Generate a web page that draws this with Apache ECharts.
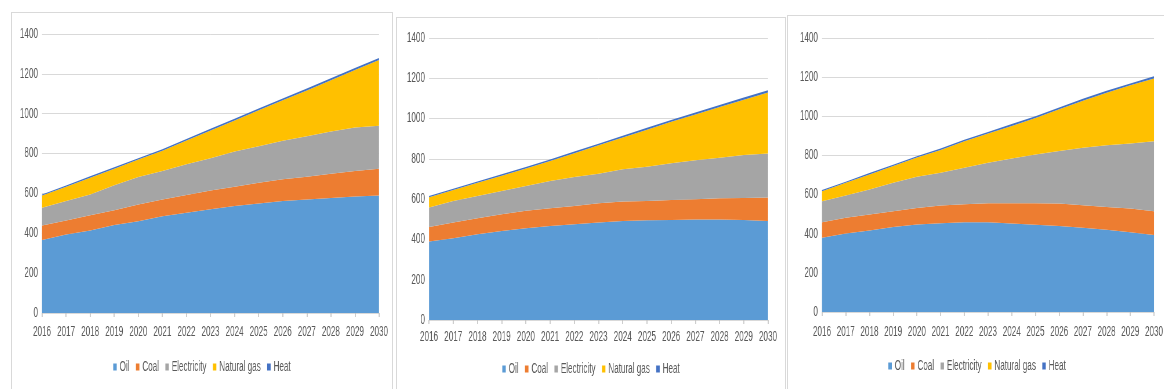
<!DOCTYPE html>
<html>
<head>
<meta charset="utf-8">
<script src="https://cdn.jsdelivr.net/npm/echarts@6/dist/echarts.min.js"></script>
<style>
  html, body { margin: 0; padding: 0; background: #ffffff; }
  body { width: 1164px; height: 389px; position: relative; overflow: hidden; }
  .panel { position: absolute; box-sizing: border-box; border: 1px solid #d9d9d9; background: #fff; overflow: hidden; }
  /* charts are laid out wide and narrowed horizontally, giving the condensed lettering */
  .inner { position: absolute; left: 0; top: 0; height: 100%; transform-origin: 0 0; }
</style>
</head>
<body>
<div id="p1" class="panel" style="left:11px; top:12px; width:382px; height:380px;"><div class="inner"></div></div>
<div id="p2" class="panel" style="left:396px; top:17px; width:390px; height:375px;"><div class="inner"></div></div>
<div id="p3" class="panel" style="left:787px; top:15px; width:380px; height:377px;"><div class="inner"></div></div>
<script>
// Years on the horizontal axis
const years = ['2016','2017','2018','2019','2020','2021','2022','2023','2024','2025','2026','2027','2028','2029','2030'];
const seriesNames = ['Oil', 'Coal', 'Electricity', 'Natural gas', 'Heat'];
const yTicks = [0, 200, 400, 600, 800, 1000, 1200, 1400];

// Scenario A
const oilA   = [366, 394, 414, 441, 461, 486, 503, 520, 537, 550, 562, 570, 577, 584, 590];
const coalA  = [73, 70, 76, 75, 84, 84, 89, 95, 97, 104, 109, 114, 122, 129, 134];
const elecA  = [89, 98, 105, 125, 138, 143, 154, 161, 176, 183, 193, 203, 212, 218, 215];
const gasA   = [61, 72, 84, 83, 87, 101, 119, 140, 156, 180, 203, 230, 257, 288, 330];
const heatA  = [6, 6, 7, 7, 7, 8, 8, 8, 9, 9, 9, 10, 10, 10, 11];

// Scenario B
const oilB   = [390, 406, 426, 442, 456, 467, 475, 484, 492, 495, 497, 499, 499, 497, 492];
const coalB  = [72, 78, 79, 83, 86, 88, 91, 96, 96, 96, 99, 100, 105, 109, 116];
const elecB  = [96, 107, 111, 116, 123, 135, 144, 146, 160, 170, 182, 194, 202, 213, 219];
const gasB   = [52, 55, 65, 75, 87, 99, 118, 141, 158, 184, 206, 227, 251, 275, 303];
const heatB  = [6, 6, 7, 7, 7, 8, 8, 8, 9, 9, 9, 10, 10, 10, 11];

// Scenario C
const oilC   = [379, 401, 417, 434, 447, 454, 458, 458, 452, 446, 439, 430, 420, 408, 393];
const coalC  = [80, 80, 81, 81, 85, 90, 93, 98, 104, 110, 115, 116, 117, 121, 122];
const elecC  = [107, 114, 128, 145, 159, 167, 186, 206, 228, 249, 268, 293, 315, 332, 358];
const gasC   = [51, 65, 77, 86, 98, 117, 135, 150, 167, 186, 214, 241, 268, 297, 320];
const heatC  = [6, 6, 7, 7, 7, 8, 8, 8, 9, 9, 9, 10, 10, 10, 11];

const colors = ['#5b9bd5', '#ed7d31', '#a5a5a5', '#ffc000', '#4472c4'];
const font = "'Liberation Sans', Arial, sans-serif";
const textColor = '#595959';
const SX = 0.58; // horizontal narrowing factor

function buildOption(data, g, labelMargin, legendBottom, legendShift) {
  return {
    animation: false,
    color: colors,
    textStyle: { fontFamily: font },
    grid: { left: g.left / SX, top: g.top, width: g.width / SX, height: g.height, containLabel: false },
    legend: {
      data: seriesNames,
      bottom: legendBottom,
      left: 'center',
      padding: [0, 0, 0, legendShift / SX],
      icon: 'rect',
      itemWidth: 6,
      itemHeight: 7,
      itemGap: 11,
      textStyle: { color: textColor, fontSize: 14, fontFamily: font }
    },
    xAxis: {
      type: 'category',
      data: years,
      boundaryGap: false,
      axisLine: { lineStyle: { color: '#d9d9d9' } },
      axisTick: { show: true, length: 4, lineStyle: { color: '#bfbfbf', width: 1.5 } },
      axisLabel: { color: textColor, fontSize: 14, fontFamily: font, margin: labelMargin, interval: 0 }
    },
    yAxis: {
      type: 'value',
      min: yTicks[0],
      max: yTicks[yTicks.length - 1],
      interval: yTicks[1] - yTicks[0],
      axisLine: { show: false },
      axisTick: { show: false },
      splitLine: { lineStyle: { color: '#d9d9d9' } },
      axisLabel: { color: textColor, fontSize: 14, fontFamily: font, margin: 7, formatter: v => String(v) }
    },
    series: seriesNames.map((name, i) => ({
      name: name,
      type: 'line',
      stack: 'total',
      data: data[i],
      showSymbol: false,
      symbol: 'none',
      lineStyle: { width: 0 },
      areaStyle: { color: colors[i], opacity: 1 },
      emphasis: { disabled: true }
    }))
  };
}

function makeChart(id, data, g, labelMargin, legendBottom, legendShift) {
  const panel = document.getElementById(id);
  const inner = panel.querySelector('.inner');
  inner.style.width = (panel.clientWidth / SX) + 'px';
  inner.style.transform = 'scaleX(' + SX + ')';
  const chart = echarts.init(inner);
  chart.setOption(buildOption(data, g, labelMargin, legendBottom, legendShift));
  return chart;
}

makeChart('p1', [oilA, coalA, elecA, gasA, heatA],
  { left: 30, top: 21, width: 337, height: 279 }, 12, 17, 6);
makeChart('p2', [oilB, coalB, elecB, gasB, heatB],
  { left: 32, top: 20, width: 339, height: 282 }, 10, 15, 6);
makeChart('p3', [oilC, coalC, elecC, gasC, heatC],
  { left: 34, top: 22, width: 332, height: 274 }, 13, 18, 12);
</script>
</body>
</html>
